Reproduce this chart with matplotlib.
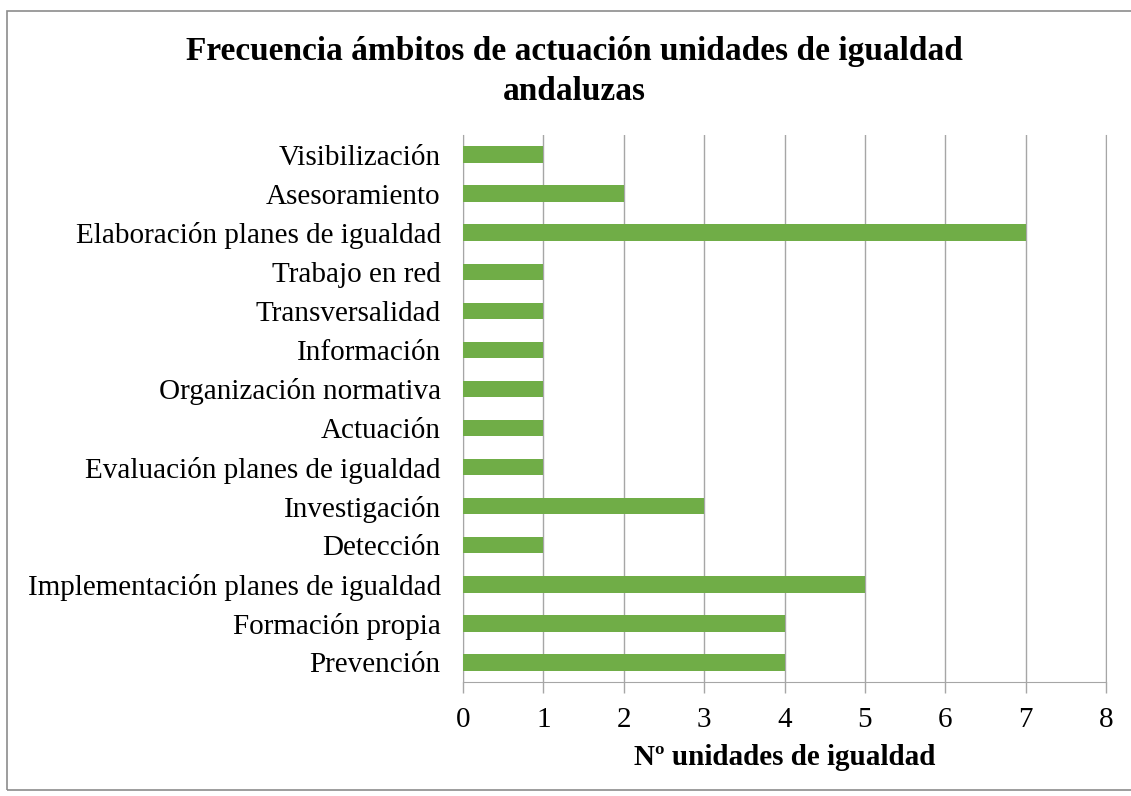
import matplotlib.pyplot as plt
from matplotlib.patches import Rectangle

# Datos: ámbitos de actuación (de arriba a abajo) y frecuencia
ambitos = ['Visibilización', 'Asesoramiento', 'Elaboración planes de igualdad',
           'Trabajo en red', 'Transversalidad', 'Información',
           'Organización normativa', 'Actuación', 'Evaluación planes de igualdad',
           'Investigación', 'Detección', 'Implementación planes de igualdad',
           'Formación propia', 'Prevención']
frecuencia = [1, 2, 7, 1, 1, 1, 1, 1, 1, 3, 1, 5, 4, 4]
x_ticks = [0, 1, 2, 3, 4, 5, 6, 7, 8]

plt.rcParams['font.family'] = ['Liberation Serif', 'DejaVu Serif']

fig = plt.figure(figsize=(11.31, 7.96), dpi=100)
ax = fig.add_axes([0.4094, 0.1432, 0.5685, 0.6872])

# borde exterior del gráfico
fig.patches.append(Rectangle((7 / 1131, 6 / 796), 1140 / 1131, 779 / 796,
                             transform=fig.transFigure, fill=False,
                             edgecolor='#8c8c8c', linewidth=1.2))

pos = list(range(len(ambitos)))[::-1]
ax.barh(pos, frecuencia, height=0.42, color='#70AD47', zorder=3)

ax.set_xlim(0, 8)
ax.set_ylim(-0.5, len(ambitos) - 0.5)
ax.set_xticks(x_ticks)
ax.set_yticks(pos)
ax.set_yticklabels(ambitos)
ax.tick_params(axis='y', length=0, labelsize=21, pad=16)
ax.tick_params(axis='x', length=8, width=1, color='#a6a6a6', labelsize=21, pad=10)
ax.grid(axis='x', color='#a6a6a6', linewidth=1, zorder=0)

ax.spines['top'].set_visible(False)
for s in ['left', 'bottom', 'right']:
    ax.spines[s].set_color('#a6a6a6')

ax.set_xlabel('Nº unidades de igualdad', fontsize=21, fontweight='bold', labelpad=8)
fig.text(0.508, 0.91, 'Frecuencia ámbitos de actuación unidades de igualdad\nandaluzas',
         ha='center', va='center', fontsize=24, fontweight='bold', linespacing=1.35)

plt.savefig('out.png')
